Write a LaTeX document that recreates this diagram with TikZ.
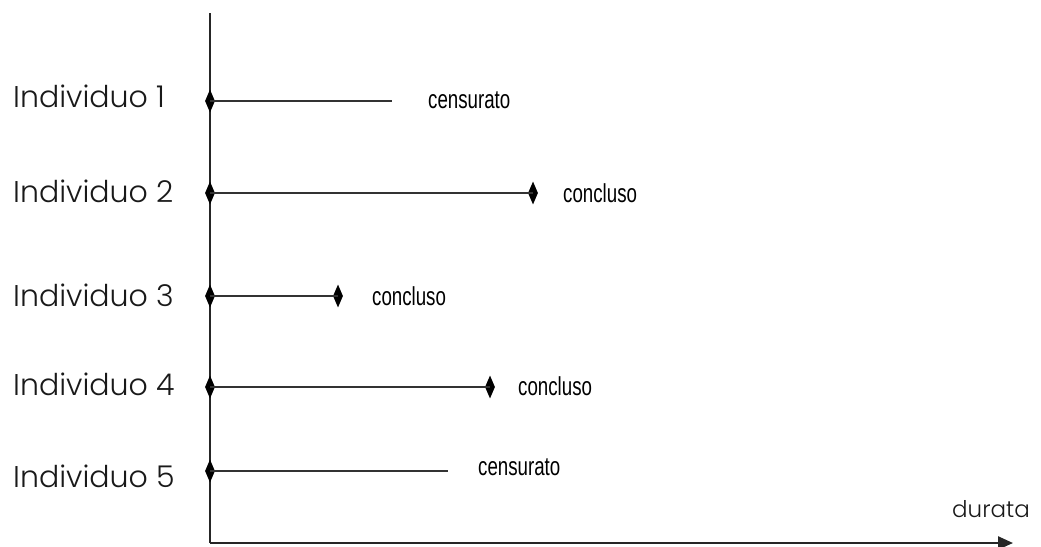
\documentclass[tikz,border=0pt]{standalone}
\usepackage{fontspec}
\IfFontExistsTF{Poppins Light}{\setmainfont{Poppins Light}}{\setmainfont{Poppins}}
\newfontfamily\narrowfont{Liberation Sans}
\usetikzlibrary{shapes.geometric,arrows.meta}

\tikzset{
  eventmark/.style={diamond, fill=black, draw=none, inner sep=0pt,
    minimum width=10pt, minimum height=23pt},
  axisline/.style={line width=2.4pt, black!85},
  spanline/.style={line width=2pt, black!80},
  rowlabel/.style={anchor=base west, inner sep=0pt, text=black!90,
    font=\fontsize{30}{30}\selectfont},
  outcome/.style={anchor=base west, inner sep=0pt, xscale=0.72,
    font=\narrowfont\fontsize{26}{26}\selectfont},
}

\begin{document}
\begin{tikzpicture}[x=1pt, y=-1pt]
  \useasboundingbox (0,0) rectangle (1041,546);

  % axes
  \coordinate (top) at (210,13);
  \coordinate (origin) at (210,543);
  \coordinate (tip) at (1013,543);
  \draw[axisline] (top) -- (origin);
  \draw[axisline, -{Triangle[length=15pt, width=13pt]}] (origin) -- (tip);
  \node[anchor=base west, inner sep=0pt, text=black!90,
        font=\fontsize{23}{23}\selectfont] (durata) at (952,517) {durata};

  % row labels
  \node[rowlabel] (l1) at (13,107) {Individuo 1};
  \node[rowlabel] (l2) at (13,202) {Individuo 2};
  \node[rowlabel] (l3) at (13,306) {Individuo 3};
  \node[rowlabel] (l4) at (13,395) {Individuo 4};
  \node[rowlabel] (l5) at (13,487) {Individuo 5};

  % start marks on the vertical axis
  \node[eventmark] (s1) at (210,101) {};
  \node[eventmark] (s2) at (210,193) {};
  \node[eventmark] (s3) at (210,296) {};
  \node[eventmark] (s4) at (210,387) {};
  \node[eventmark] (s5) at (210,471) {};

  % end points: diamonds for completed, bare ends for censored
  \coordinate (e1) at (392,101);
  \node[eventmark] (e2) at (533,193) {};
  \node[eventmark] (e3) at (338,296) {};
  \node[eventmark] (e4) at (490,387) {};
  \coordinate (e5) at (448,471);

  \draw[spanline] (s1.center) -- (e1);
  \draw[spanline] (s2.center) -- (e2.center);
  \draw[spanline] (s3.center) -- (e3.center);
  \draw[spanline] (s4.center) -- (e4.center);
  \draw[spanline] (s5.center) -- (e5);

  % outcome labels
  \node[outcome] (o1) at (428,108) {censurato};
  \node[outcome] (o2) at (563,202) {concluso};
  \node[outcome] (o3) at (372,305) {concluso};
  \node[outcome] (o4) at (518,395) {concluso};
  \node[outcome] (o5) at (478,475) {censurato};
\end{tikzpicture}
\end{document}
